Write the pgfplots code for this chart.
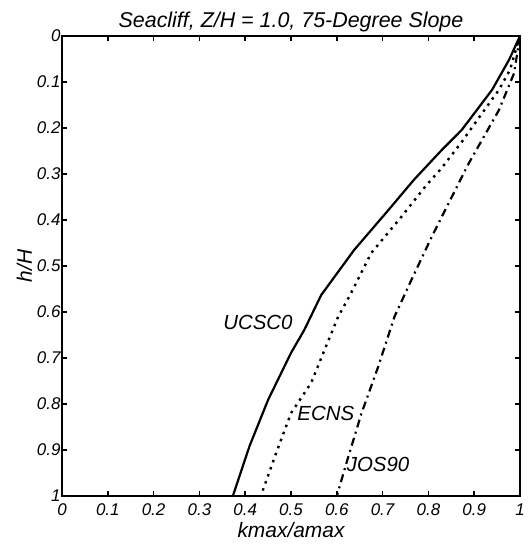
\documentclass[border=0pt]{standalone}
\usepackage{fontspec}
\setmainfont{Liberation Sans}
\usepackage{pgfplots}
\pgfplotsset{compat=1.18}
\begin{document}
\begin{tikzpicture}
\begin{axis}[
  scale only axis, width=458bp, height=460bp,
  xmin=0, xmax=1, ymin=0, ymax=1, y dir=reverse,
  xtick={0,0.1,0.2,0.3,0.4,0.5,0.6,0.7,0.8,0.9,1},
  xticklabels={0,0.1,0.2,0.3,0.4,0.5,0.6,0.7,0.8,0.9,1},
  ytick={0,0.1,0.2,0.3,0.4,0.5,0.6,0.7,0.8,0.9,1},
  yticklabels={0,0.1,0.2,0.3,0.4,0.5,0.6,0.7,0.8,0.9,1},
  /pgf/number format/assume math mode=true,
  tick align=inside, major tick length=5bp,
  axis line style={line width=2.2bp},
  every tick/.style={black, line width=1.6bp},
  tick label style={font=\fontsize{17}{19}\selectfont\itshape},
  xticklabel style={yshift=-4bp},
  yticklabel style={xshift=2bp},
  title={Seacliff, Z/H = 1.0, 75-Degree Slope},
  title style={font=\fontsize{21.5}{25}\selectfont\itshape, yshift=-5bp},
  xlabel={kmax/amax}, ylabel={h/H},
  label style={font=\fontsize{21}{25}\selectfont\itshape},
  xlabel style={yshift=0bp},
  ylabel style={yshift=-2bp},
  clip=false,
]
\addplot[black, line width=2.2bp] coordinates {
(1,0) (0.976,0.052) (0.939,0.117) (0.873,0.204) (0.829,0.248) (0.768,0.313)
(0.713,0.378) (0.638,0.465) (0.566,0.563) (0.529,0.639) (0.50,0.689) (0.45,0.791)
(0.41,0.89) (0.373,1)};
\addplot[black, line width=2.4bp, dash pattern=on 2.5bp off 5bp] coordinates {
(1,0) (0.978,0.074) (0.954,0.117) (0.91,0.178) (0.873,0.23) (0.829,0.287)
(0.795,0.325) (0.741,0.393) (0.675,0.472) (0.628,0.565) (0.603,0.61)
(0.544,0.754) (0.50,0.82) (0.47,0.90) (0.434,1)};
\addplot[black, line width=2.2bp, dash pattern=on 8bp off 4.5bp on 2bp off 4.5bp] coordinates {
(1,0) (0.987,0.081) (0.954,0.161) (0.917,0.226) (0.888,0.277) (0.851,0.35)
(0.807,0.437) (0.763,0.53) (0.726,0.61) (0.69,0.72) (0.654,0.82) (0.625,0.915) (0.60,1)};
\node[anchor=east, font=\fontsize{20.5}{24}\selectfont\itshape, inner sep=1bp] at (axis cs:0.506,0.622) {UCSC0};
\node[font=\fontsize{20.5}{24}\selectfont\itshape, inner sep=1bp] at (axis cs:0.576,0.82) {ECNS};
\node[font=\fontsize{20.5}{24}\selectfont\itshape, inner sep=1bp] at (axis cs:0.69,0.932) {JOS90};
\coordinate (sw) at (rel axis cs:0,0);
\coordinate (ne) at (rel axis cs:1,1);
\end{axis}
\pgfresetboundingbox
\path ([xshift=-62bp,yshift=-50bp]sw) rectangle ([xshift=10bp,yshift=36bp]ne);
\end{tikzpicture}
\end{document}
